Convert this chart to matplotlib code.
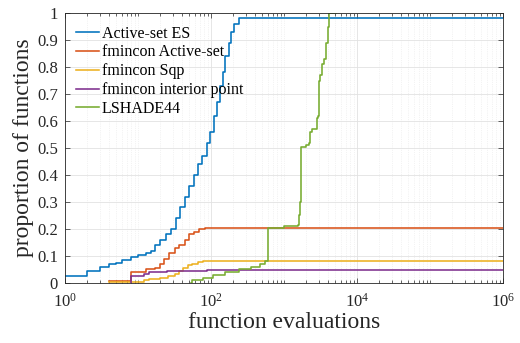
import numpy as np
import matplotlib
matplotlib.use("Agg")
import matplotlib.pyplot as plt
from matplotlib.ticker import LogLocator, FixedLocator, NullFormatter, LogFormatterMathtext

plt.rcParams['font.family'] = ['Liberation Serif', 'DejaVu Serif']
plt.rcParams['mathtext.fontset'] = 'stix'

# performance profile data (function evaluations, proportion)
es_x = [1, 2, 3, 4, 5, 6, 8, 10, 13, 15, 17, 20, 24, 28, 33, 38, 44, 50, 58, 66,
        76, 87, 98, 110, 120, 132, 145, 158, 174, 190, 209, 240, 1e6]
es_y = [0.025, 0.045, 0.06, 0.07, 0.075, 0.085, 0.095, 0.105, 0.11, 0.12, 0.14, 0.16,
        0.18, 0.2, 0.24, 0.28, 0.32, 0.36, 0.4, 0.44, 0.47, 0.52, 0.56, 0.62, 0.67,
        0.73, 0.78, 0.84, 0.89, 0.93, 0.96, 0.98, 0.98]

as_x = [4, 8, 13, 17, 20, 23, 27, 32, 37, 44, 50, 58, 69, 83, 1e6]
as_y = [0.008, 0.04, 0.05, 0.055, 0.07, 0.09, 0.11, 0.13, 0.14, 0.16, 0.18, 0.19,
        0.2, 0.205, 0.205]

sqp_x = [4, 8, 10, 12, 14, 20, 26, 32, 36, 42, 48, 55, 66, 79, 1e6]
sqp_y = [0.002, 0.003, 0.005, 0.01, 0.015, 0.02, 0.025, 0.035, 0.045, 0.055, 0.065,
         0.072, 0.078, 0.08, 0.08]

ip_x = [8, 8, 12, 14, 25, 38, 89, 1e6]
ip_y = [0.0, 0.024, 0.035, 0.04, 0.043, 0.046, 0.048, 0.048]

ls_x = [54, 55, 79, 107, 158, 240, 355, 468, 550, 603, 1000, 1550, 1620, 1660, 1740,
        2000, 2240, 2290, 2400, 2880, 2950, 3020, 3160, 3310, 3550, 3800, 3980, 4070,
        4170, 5130]
ls_y = [0.0, 0.01, 0.02, 0.03, 0.04, 0.05, 0.06, 0.07, 0.08, 0.205, 0.21, 0.215, 0.25,
        0.3, 0.505, 0.51, 0.52, 0.56, 0.57, 0.61, 0.62, 0.75, 0.77, 0.81, 0.83, 0.89,
        0.91, 0.95, 1.0, 1.0]

series = [
    ("Active-set ES", es_x, es_y, "#0072BD"),
    ("fmincon Active-set", as_x, as_y, "#D95319"),
    ("fmincon Sqp", sqp_x, sqp_y, "#EDB120"),
    ("fmincon interior point", ip_x, ip_y, "#7E2F8E"),
    ("LSHADE44", ls_x, ls_y, "#77AC30"),
]

fig = plt.figure(figsize=(5.2, 3.43), dpi=100)
ax = fig.add_axes([0.125, 0.175, 0.842, 0.787])

for name, x, y, c in series:
    ax.plot(x, y, drawstyle='steps-post', color=c, lw=1.15, label=name)

ax.set_xscale('log')
ax.set_xlim(1, 1e6)
ax.set_ylim(0, 1)
ax.xaxis.set_major_locator(FixedLocator([1, 1e2, 1e4, 1e6]))
ax.xaxis.set_major_formatter(LogFormatterMathtext())
ax.xaxis.set_minor_locator(LogLocator(base=10, subs=np.arange(1, 10), numticks=100))
ax.xaxis.set_minor_formatter(NullFormatter())
ax.set_yticks(np.arange(0, 1.01, 0.1))
ax.set_yticklabels(["0", "0.1", "0.2", "0.3", "0.4", "0.5", "0.6", "0.7", "0.8", "0.9", "1"])

ax.grid(True, which='major', color='#e2e2e2', lw=0.6)
ax.grid(True, which='minor', axis='x', color='#e8e8e8', lw=0.5, ls=':')
ax.set_axisbelow(True)

ax.tick_params(which='both', direction='in', top=True, right=True, colors='#262626',
               labelsize=12)
ax.tick_params(which='major', length=3.5, width=0.5)
ax.tick_params(which='minor', length=2, width=0.5)
ax.tick_params(axis='x', which='major', pad=7)
ax.tick_params(axis='y', which='major', pad=5)
for s in ax.spines.values():
    s.set_color('#262626')
    s.set_linewidth(0.6)

ax.set_xlabel("function evaluations", fontsize=17, color='#262626', labelpad=1)
ax.set_ylabel("proportion of functions", fontsize=17, color='#262626', labelpad=2)

ax.legend(loc='upper left', frameon=False, fontsize=11.5, handlelength=1.45,
          handletextpad=0.15, labelspacing=0.18, borderaxespad=0.3,
          bbox_to_anchor=(0.0, 0.995))

fig.savefig("out.png", dpi=100)
